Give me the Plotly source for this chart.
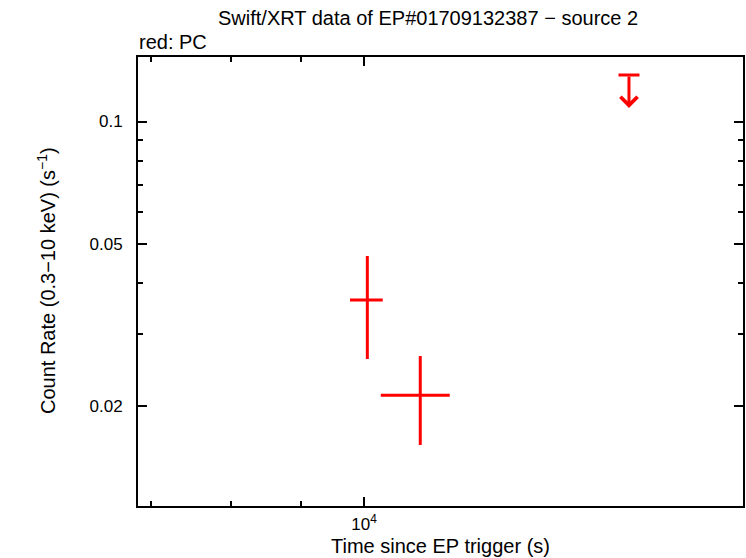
import numpy as np
import plotly.graph_objects as go

# ---- data ----
t_mid = [10055, 10987]
t_lo = [9768, 10284]
t_hi = [10318, 11543]
rate = [0.03641, 0.02125]
rate_lo = [0.02609, 0.01604]
rate_hi = [0.04673, 0.02653]

ul_t = [15584]
ul_rate = [0.1301]

y_major = [0.02, 0.05, 0.1]
y_major_text = ["0.02", "0.05", "0.1"]
y_minor = [0.03, 0.04, 0.06, 0.07, 0.08, 0.09]
x_major = [10000]
x_major_text = ["10<sup>4</sup>"]
x_minor = [7000, 8000, 9000]

x_range = [3.8356, 4.2756]
y_range = [-1.9447, -0.8415]

RED = "#ff0000"
FONT = "Liberation Sans, Arial, Helvetica, sans-serif"

fig = go.Figure()

fig.add_trace(go.Scatter(
    x=t_mid, y=rate, mode="markers",
    marker=dict(size=0.1, color=RED),
    error_x=dict(type="data", symmetric=False,
                 array=[h - m for h, m in zip(t_hi, t_mid)],
                 arrayminus=[m - l for m, l in zip(t_mid, t_lo)],
                 color=RED, thickness=3, width=0),
    error_y=dict(type="data", symmetric=False,
                 array=[h - m for h, m in zip(rate_hi, rate)],
                 arrayminus=[m - l for m, l in zip(rate, rate_lo)],
                 color=RED, thickness=3, width=0),
    showlegend=False, hoverinfo="x+y"))

# upper limit: cap at the limit value
fig.add_trace(go.Scatter(
    x=ul_t, y=ul_rate, mode="markers",
    marker=dict(symbol="line-ew", size=15, color=RED, line=dict(color=RED, width=3)),
    showlegend=False))

ARROW_FACTOR = 0.83
for xv, yv in zip(ul_t, ul_rate):
    fig.add_annotation(x=np.log10(xv), y=np.log10(yv * ARROW_FACTOR),
                       ax=np.log10(xv), ay=np.log10(yv),
                       xref="x", yref="y", axref="x", ayref="y",
                       showarrow=True, arrowhead=4, arrowsize=1.1,
                       arrowwidth=3, arrowcolor=RED, text="")

axis_common = dict(
    showline=True, linecolor="black", linewidth=2, mirror="allticks",
    ticks="inside", ticklen=9, tickwidth=2, tickcolor="black",
    showgrid=False, zeroline=False, automargin=False,
    tickfont=dict(family=FONT, size=17, color="black"),
)

fig.update_xaxes(type="log", range=x_range, tickmode="array",
                 tickvals=x_major, ticktext=x_major_text, ticklabelstandoff=2,
                 minor=dict(tickmode="array", tickvals=x_minor, ticks="inside",
                            ticklen=5, tickwidth=2, tickcolor="black", showgrid=False),
                 **axis_common)
fig.update_yaxes(type="log", range=y_range, tickmode="array",
                 tickvals=y_major, ticktext=y_major_text, ticklabelstandoff=10,
                 minor=dict(tickmode="array", tickvals=y_minor, ticks="inside",
                            ticklen=5, tickwidth=2, tickcolor="black", showgrid=False),
                 **axis_common)

W, H = 746, 558
L, R, T, B = 138, 3, 57, 52
pw, ph = W - L - R, H - T - B

def px_x(x):
    return (x - L) / pw

def px_y(y):
    return (H - B - y) / ph

TFONT = dict(family=FONT, size=20, color="black")
fig.add_annotation(text="Swift/XRT data of EP#01709132387 \u2212 source 2",
                   xref="paper", yref="paper", x=px_x(428), y=px_y(18),
                   xanchor="center", yanchor="middle", showarrow=False, font=TFONT)
fig.add_annotation(text="red: PC", xref="paper", yref="paper", x=px_x(137), y=px_y(42),
                   xanchor="left", yanchor="middle", showarrow=False, font=TFONT)
fig.add_annotation(text="Time since EP trigger (s)", xref="paper", yref="paper",
                   x=px_x(440), y=px_y(546), xanchor="center", yanchor="middle",
                   showarrow=False, font=TFONT)
fig.add_annotation(text="Count Rate (0.3\u221210 keV) (s<sup>\u22121</sup>)",
                   xref="paper", yref="paper", x=px_x(46), y=px_y(281),
                   xanchor="center", yanchor="middle", textangle=-90,
                   showarrow=False, font=TFONT)

fig.update_layout(
    width=W, height=H,
    margin=dict(l=L, r=R, t=T, b=B, autoexpand=False),
    paper_bgcolor="white", plot_bgcolor="white",
    font=dict(family=FONT, size=17, color="black"),
)

post = (
    "document.documentElement.style.margin='0';"
    "document.documentElement.style.overflow='hidden';"
    "document.body.style.margin='0';"
    "document.body.style.padding='0';"
    "document.body.style.overflow='hidden';"
    "var gd=document.getElementById('{plot_id}');"
    "Plotly.relayout(gd,{width:%d,height:%d});" % (W, H)
)

fig.write_html("out.html", post_script=post,
               config={"displayModeBar": False, "staticPlot": True})
